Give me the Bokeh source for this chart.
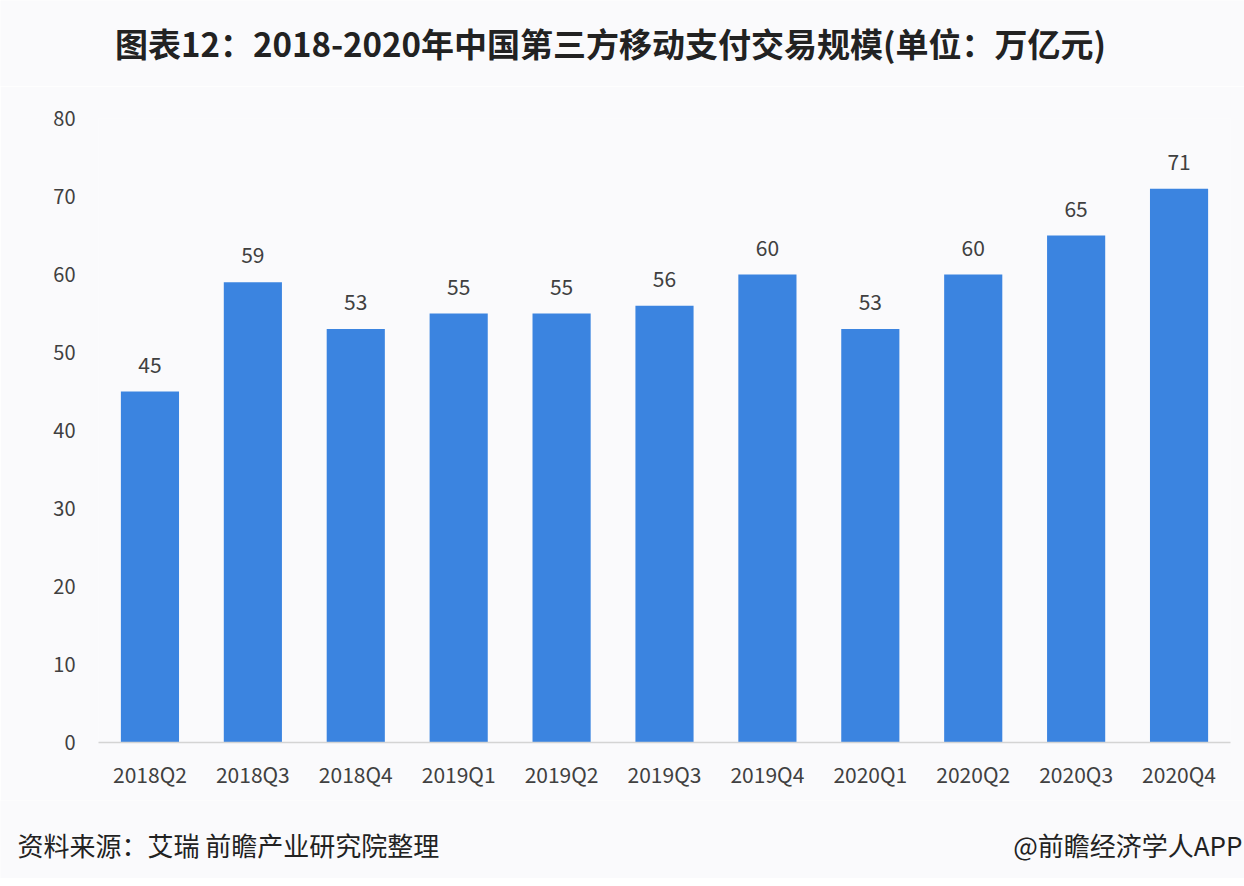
from bokeh.plotting import figure
from bokeh.layouts import column
from bokeh.models import ColumnDataSource, LabelSet, Range1d, FixedTicker
from bokeh.core.properties import value
from bokeh.embed import file_html
from bokeh.resources import INLINE

title = "图表12：2018-2020年中国第三方移动支付交易规模(单位：万亿元)"
categories = ["2018Q2", "2018Q3", "2018Q4", "2019Q1", "2019Q2", "2019Q3",
              "2019Q4", "2020Q1", "2020Q2", "2020Q3", "2020Q4"]
values = [45, 59, 53, 55, 55, 56, 60, 53, 60, 65, 71]
y_ticks = [0, 10, 20, 30, 40, 50, 60, 70, 80]
source_text = "资料来源：艾瑞 前瞻产业研究院整理"
credit_text = "@前瞻经济学人APP"

BG = "#FAFAFC"
BAR = "#3B84E0"
TXT = "#404040"
DARK = "#222222"
FONT = "Noto Sans CJK SC"

W = 1244
H_HEAD, H_MAIN, H_FOOT = 86, 714, 78


def blank(h):
    f = figure(width=W, height=h, x_range=Range1d(0, W), y_range=Range1d(0, h),
               output_backend="svg", toolbar_location=None,
               x_axis_type=None, y_axis_type=None, frame_align=False,
               min_border=0, min_border_left=0, min_border_right=0,
               min_border_top=0, min_border_bottom=0,
               background_fill_color=BG, border_fill_color=BG, outline_line_color=None)
    f.xgrid.visible = False
    f.ygrid.visible = False
    return f


# header
head = blank(H_HEAD)
head.text(x=[610], y=[H_HEAD - 42], text=[title], text_align="center",
          text_baseline="middle", text_font=value(FONT), text_font_size="33px",
          text_font_style="bold", text_color=DARK)

# main chart
src = ColumnDataSource(dict(cat=categories, val=values, lab=[str(v) for v in values]))
p = figure(x_range=categories, y_range=Range1d(0, 80), width=W, height=H_MAIN,
           output_backend="svg", toolbar_location=None, frame_align=False,
           min_border_left=98, min_border_right=14, min_border_top=32, min_border_bottom=58,
           background_fill_color=BG, border_fill_color=BG, outline_line_color=None)

p.vbar(x="cat", top="val", width=0.565, source=src, color=BAR, line_color=None)

p.add_layout(LabelSet(x="cat", y="val", text="lab", source=src, y_offset=27,
                      text_align="center", text_baseline="middle",
                      text_font=value(FONT), text_font_size="21px", text_color=TXT))

p.xgrid.visible = False
p.ygrid.visible = False

p.yaxis.ticker = FixedTicker(ticks=y_ticks)
p.yaxis.axis_line_color = None
p.yaxis.major_tick_line_color = None
p.yaxis.minor_tick_line_color = None
p.yaxis.major_label_text_font = FONT
p.yaxis.major_label_text_font_size = "20px"
p.yaxis.major_label_text_color = TXT
p.yaxis.major_label_standoff = 17

p.xaxis.axis_line_color = "#D4D4D4"
p.xaxis.axis_line_width = 1.5
p.xaxis.major_tick_line_color = None
p.xaxis.minor_tick_line_color = None
p.xaxis.major_label_text_font = FONT
p.xaxis.major_label_text_font_size = "21px"
p.xaxis.major_label_text_color = TXT
p.xaxis.major_label_standoff = 10

# footer
foot = blank(H_FOOT)
foot.text(x=[17], y=[H_FOOT - 44], text=[source_text], text_align="left",
          text_baseline="middle", text_font=value(FONT), text_font_size="26px",
          text_color=DARK)
foot.text(x=[1242], y=[H_FOOT - 44], text=[credit_text], text_align="right",
          text_baseline="middle", text_font=value(FONT), text_font_size="26px",
          text_color=DARK)

layout = column(head, p, foot, spacing=0)
open("out.html", "w").write(file_html(layout, INLINE))
